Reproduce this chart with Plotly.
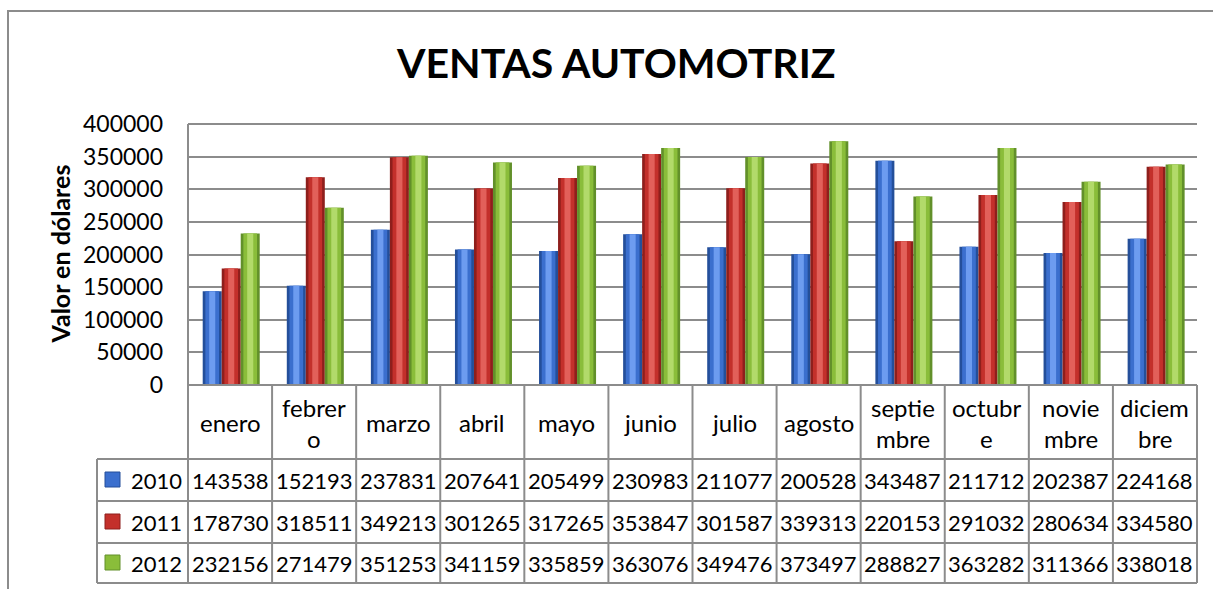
import plotly.graph_objects as go

months = ["enero", "febrero", "marzo", "abril", "mayo", "junio", "julio",
          "agosto", "septiembre", "octubre", "noviembre", "diciembre"]
header_lines = [["enero"], ["febrer", "o"], ["marzo"], ["abril"], ["mayo"],
                ["junio"], ["julio"], ["agosto"], ["septie", "mbre"],
                ["octubr", "e"], ["novie", "mbre"], ["diciem", "bre"]]
years = ["2010", "2011", "2012"]
v2010 = [143538, 152193, 237831, 207641, 205499, 230983, 211077, 200528, 343487, 211712, 202387, 224168]
v2011 = [178730, 318511, 349213, 301265, 317265, 353847, 301587, 339313, 220153, 291032, 280634, 334580]
v2012 = [232156, 271479, 351253, 341159, 335859, 363076, 349476, 373497, 288827, 363282, 311366, 338018]
series = [v2010, v2011, v2012]
y_ticks = [0, 50000, 100000, 150000, 200000, 250000, 300000, 350000, 400000]

# colour shades: edge, mid, highlight
shades = [
    ("#244f9a", "#3b6fce", "#6d9cf0"),
    ("#8e1f1c", "#c3302b", "#e2605a"),
    ("#62902a", "#8abd3a", "#b2da6a"),
]

W, H = 1213, 589
L, R, T, B = 188, 1197, 124, 385
FONT = "Lato, Carlito, Calibri, sans-serif"
GRID = "#8c8c8c"


def px_x(X):
    return (X - L) / (R - L)


def px_y(Y):
    return (B - Y) / (B - T)


fig = go.Figure()

bar_w = 0.226
start = -0.325
for s, vals in enumerate(series):
    base_off = start + s * bar_w
    for frac, col in zip((1.0, 0.72, 0.32), shades[s]):
        w = bar_w * frac
        off = base_off + (bar_w - w) / 2
        fig.add_trace(go.Bar(
            x=months, y=vals, width=w, offset=off,
            marker=dict(color=col, line=dict(width=0)),
            showlegend=False, hoverinfo="skip" if frac < 1 else None,
            name=years[s],
        ))

shapes = []
annotations = []

# outer chart border
shapes.append(dict(type="rect", xref="paper", yref="paper",
                   x0=px_x(8), x1=px_x(1240), y0=px_y(11), y1=px_y(640),
                   line=dict(color=GRID, width=2), layer="below"))
# plot area left and top border
shapes.append(dict(type="line", xref="paper", yref="paper", x0=0, x1=0,
                   y0=0, y1=1, line=dict(color=GRID, width=2)))
shapes.append(dict(type="line", xref="paper", yref="paper", x0=0, x1=1,
                   y0=1, y1=1, line=dict(color=GRID, width=2)))

# table grid
n = len(months)
row_tops = [459, 501, 543, 583]
shapes.append(dict(type="line", xref="paper", yref="paper", x0=0, x1=1,
                   y0=0, y1=0, line=dict(color=GRID, width=2)))
for yy in row_tops:
    shapes.append(dict(type="line", xref="paper", yref="paper",
                       x0=px_x(97), x1=1, y0=px_y(yy), y1=px_y(yy),
                       line=dict(color=GRID, width=2)))
for k in range(n + 1):
    shapes.append(dict(type="line", xref="paper", yref="paper",
                       x0=k / n, x1=k / n, y0=0, y1=px_y(583),
                       line=dict(color=GRID, width=2)))
shapes.append(dict(type="line", xref="paper", yref="paper",
                   x0=px_x(97), x1=px_x(97), y0=px_y(459), y1=px_y(583),
                   line=dict(color=GRID, width=2)))

TF = dict(family=FONT, size=22, color="black")
MF = dict(family=FONT, size=24, color="black")

# header labels
for m, lines in zip(months, header_lines):
    if len(lines) == 1:
        ys = [422]
    else:
        ys = [407, 438]
    for txt, yy in zip(lines, ys):
        annotations.append(dict(x=m, xref="x", y=px_y(yy), yref="paper",
                                text=txt, showarrow=False, font=MF,
                                xanchor="center", yanchor="middle"))

row_centers = [480, 522, 563]
for s, vals in enumerate(series):
    yc = row_centers[s]
    for m, v in zip(months, vals):
        annotations.append(dict(x=m, xref="x", y=px_y(yc), yref="paper",
                                text=str(v), showarrow=False, font=TF,
                                xanchor="center", yanchor="middle"))
    annotations.append(dict(x=px_x(184), xref="paper", y=px_y(yc), yref="paper",
                            text=years[s], showarrow=False, font=TF,
                            xanchor="right", yanchor="middle"))
    shapes.append(dict(type="rect", xref="paper", yref="paper",
                       x0=px_x(105), x1=px_x(120), y0=px_y(yc - 8), y1=px_y(yc + 7),
                       line=dict(color=shades[s][0], width=1),
                       fillcolor=shades[s][1]))

# title
annotations.append(dict(x=px_x(616), xref="paper", y=px_y(62), yref="paper",
                        text="<b>VENTAS AUTOMOTRIZ</b>", showarrow=False,
                        font=dict(family=FONT, size=41, color="black"),
                        xanchor="center", yanchor="middle"))
# y axis title
annotations.append(dict(x=px_x(59), xref="paper", y=0.5, yref="paper",
                        text="<b>Valor en dólares</b>", showarrow=False,
                        textangle=-90,
                        font=dict(family=FONT, size=25, color="black"),
                        xanchor="center", yanchor="middle"))

fig.update_layout(
    width=W, height=H,
    margin=dict(l=L, r=W - R, t=T, b=H - B, pad=0),
    paper_bgcolor="white", plot_bgcolor="white",
    barmode="overlay",
    showlegend=False,
    shapes=shapes,
    annotations=annotations,
    xaxis=dict(type="category", categoryorder="array", categoryarray=months,
               range=[-0.5, n - 0.5], showticklabels=False, showgrid=False,
               zeroline=False, showline=False, ticks=""),
    yaxis=dict(range=[0, 400000], tickvals=y_ticks,
               ticktext=[str(t) for t in y_ticks],
               showgrid=True, gridcolor=GRID, gridwidth=2,
               zeroline=False, showline=False, ticks="",
               ticklabelstandoff=24,
               tickfont=dict(family=FONT, size=23, color="black")),
)

fig.write_html(
    "out.html",
    config={"displayModeBar": False},
    post_script="document.body.style.margin='0';document.body.style.overflow='hidden';",
)
